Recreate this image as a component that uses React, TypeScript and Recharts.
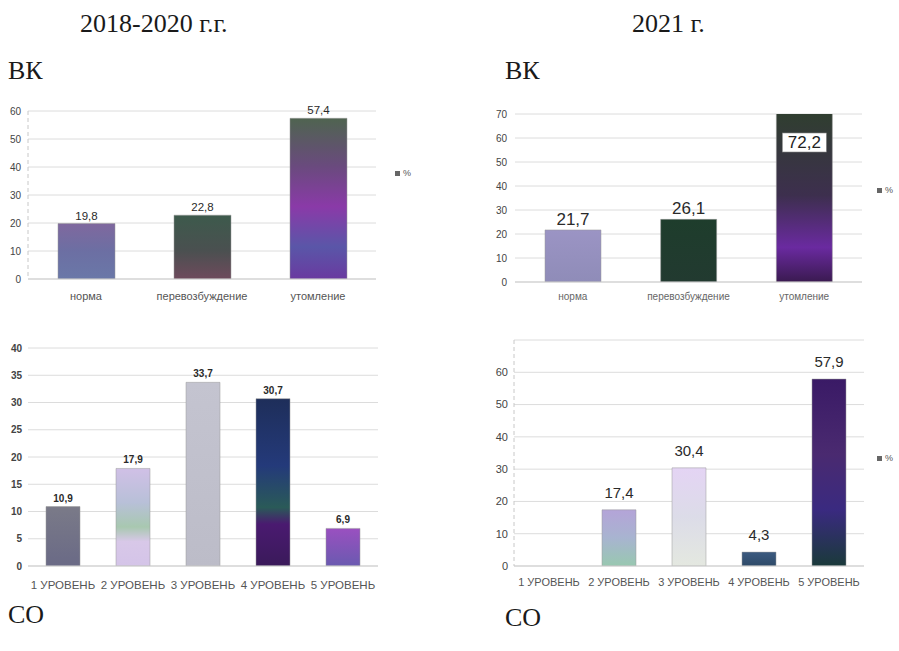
import React from 'react';
import { BarChart, Bar, XAxis, YAxis, CartesianGrid, Cell, LabelList } from 'recharts';

// ВК – categories and values
const vkLabels = ['норма', 'перевозбуждение', 'утомление'];
const vk2018 = [19.8, 22.8, 57.4];
const vk2021 = [21.7, 26.1, 72.2];
const vk2018Ticks = [0, 10, 20, 30, 40, 50, 60];
const vk2021Ticks = [0, 10, 20, 30, 40, 50, 60, 70];

// СО – levels
const coLabels = ['1 УРОВЕНЬ', '2 УРОВЕНЬ', '3 УРОВЕНЬ', '4 УРОВЕНЬ', '5 УРОВЕНЬ'];
const co2018 = [10.9, 17.9, 33.7, 30.7, 6.9];
const co2021 = [0, 17.4, 30.4, 4.3, 57.9];
const co2018Ticks = [0, 5, 10, 15, 20, 25, 30, 35, 40];
const co2021Ticks = [0, 10, 20, 30, 40, 50, 60];

type Stops = [string, string][];

// scanned-looking fills, one gradient per bar
const vk2018Fills: Stops[] = [
    [['0', '#7f689e'], ['0.5', '#6c6fa3'], ['1', '#6a78a8']],
    [['0', '#3d5a4c'], ['0.55', '#4a5050'], ['1', '#6e4a5c']],
    [['0', '#4f6450'], ['0.3', '#6a4a7e'], ['0.55', '#8a3aa8'], ['0.8', '#5a56a8'], ['1', '#6a3aa0']],
];
const vk2021Fills: Stops[] = [
    [['0', '#9b94c4'], ['1', '#8f8cb8']],
    [['0', '#1e3d2c'], ['1', '#223a30']],
    [['0', '#2f3f2e'], ['0.5', '#3d2f4e'], ['0.8', '#6a2aa0'], ['1', '#3a1a50']],
];
const co2018Fills: Stops[] = [
    [['0', '#7a7a88'], ['1', '#6a6a86']],
    [['0', '#d0c0e6'], ['0.35', '#b8c0d8'], ['0.6', '#a8c8b0'], ['0.75', '#d8c8e8'], ['1', '#d4c4e8']],
    [['0', '#c4c4d0'], ['1', '#bcbcc8']],
    [['0', '#1e2e5a'], ['0.4', '#243a7a'], ['0.65', '#2a5a58'], ['0.75', '#4a1a70'], ['1', '#3a1a5a']],
    [['0', '#9a50c0'], ['1', '#6a5ab0']],
];
const co2021Fills: Stops[] = [
    [['0', '#aaaaaa'], ['1', '#aaaaaa']],
    [['0', '#b4a4d8'], ['0.5', '#a8b4d0'], ['1', '#98c8b0']],
    [['0', '#e4d4f4'], ['0.5', '#dcdce8'], ['1', '#e4e8e0']],
    [['0', '#3c5a80'], ['1', '#2e4a68']],
    [['0', '#3a1a66'], ['0.4', '#4a2a70'], ['0.7', '#3a2a80'], ['1', '#1a3a3a']],
];

const fmt = (v: number) => (v ? String(v).replace('.', ',') : '');

interface PanelProps {
    id: string;
    left: number;
    top: number;
    width: number;
    height: number;
    margin: { top: number; right: number; left: number; bottom: number };
    yWidth: number;
    yGap: number;
    xGap: number;
    labels: string[];
    values: number[];
    ticks: number[];
    max: number;
    fills: Stops[];
    barSize: number;
    yFont: number;
    yBold?: boolean;
    xFont: number;
    xColor: string;
    valFont: number;
    valBold?: boolean;
    valOffset: number;
    showYLine?: boolean;
}

function Panel(p: PanelProps) {
    const data = p.labels.map((name, i) => ({ name, value: p.values[i] }));

    const renderValue = (props: any) => {
        const { x, y, width, height, value } = props;
        if (!value) return null;
        const cx = Number(x) + Number(width) / 2;
        if (value > p.max) {
            // bar runs past the axis top: value sits in a white box inside it
            const plotTop = Number(y) + (Number(height) * (value - p.max)) / value;
            return (
                <g>
                    <rect x={cx - 22} y={plotTop + 19} width={44} height={19} fill="#fff" stroke="#888" strokeWidth={0.6} />
                    <text x={cx} y={plotTop + 34} textAnchor="middle" fontSize={p.valFont} fill="#222" fontFamily="Liberation Sans">
                        {fmt(value)}
                    </text>
                </g>
            );
        }
        return (
            <text
                x={cx}
                y={Number(y) - p.valOffset}
                textAnchor="middle"
                fontSize={p.valFont}
                fontWeight={p.valBold ? 'bold' : 'normal'}
                fill="#2a2a2a"
                fontFamily="Liberation Sans"
            >
                {fmt(value)}
            </text>
        );
    };

    return (
        <div style={{ position: 'absolute', left: p.left, top: p.top }}>
            <BarChart width={p.width} height={p.height} data={data} margin={p.margin}>
                <defs>
                    {p.fills.map((stops, i) => (
                        <linearGradient key={i} id={`${p.id}-g${i}`} x1="0" y1="0" x2="0" y2="1">
                            {stops.map(([off, col]) => (
                                <stop key={off} offset={off} stopColor={col} />
                            ))}
                        </linearGradient>
                    ))}
                </defs>
                <CartesianGrid vertical={false} stroke="#dcdcdc" strokeWidth={1} />
                <XAxis
                    dataKey="name"
                    interval={0}
                    height={30}
                    tickSize={0}
                    tickMargin={p.xGap}
                    axisLine={{ stroke: '#cfcfcf' }}
                    tickLine={false}
                    tick={{ fontSize: p.xFont, fill: p.xColor, fontFamily: 'Liberation Sans' }}
                />
                <YAxis
                    width={p.yWidth}
                    domain={[0, p.max]}
                    ticks={p.ticks}
                    allowDataOverflow
                    tickSize={0}
                    tickMargin={p.yGap}
                    axisLine={p.showYLine ? { stroke: '#c8c8c8', strokeDasharray: '4 3' } : false}
                    tickLine={false}
                    tick={{ fontSize: p.yFont, fill: '#444', fontWeight: p.yBold ? 'bold' : 'normal', fontFamily: 'Liberation Sans' }}
                />
                <Bar dataKey="value" fill="#777" barSize={p.barSize} isAnimationActive={false}>
                    {data.map((d, i) => (
                        <Cell key={d.name} fill={`url(#${p.id}-g${i})`} stroke="#9a9a9a" strokeWidth={0.5} />
                    ))}
                    <LabelList dataKey="value" content={renderValue} />
                </Bar>
            </BarChart>
        </div>
    );
}

function Pct({ left, top }: { left: number; top: number }) {
    return (
        <div style={{ position: 'absolute', left, top, display: 'flex', alignItems: 'center', gap: 3, fontFamily: 'Liberation Sans', fontSize: 9, color: '#555' }}>
            <span style={{ width: 5, height: 5, background: '#666', display: 'inline-block' }} />
            %
        </div>
    );
}

const serif: React.CSSProperties = {
    position: 'absolute',
    fontFamily: '"Liberation Serif", "DejaVu Serif", serif',
    fontSize: 26,
    lineHeight: '26px',
    color: '#1a1a1a',
    whiteSpace: 'nowrap',
};

export default function App() {
    return (
        <div style={{ position: 'absolute', left: 0, top: 0, width: 899, height: 651, background: '#fff', overflow: 'hidden' }}>
            <div style={{ ...serif, left: 80, top: 11 }}>2018-2020 г.г.</div>
            <div style={{ ...serif, left: 632, top: 11 }}>2021 г.</div>
            <div style={{ ...serif, left: 8, top: 58 }}>ВК</div>
            <div style={{ ...serif, left: 505, top: 58 }}>ВК</div>
            <div style={{ ...serif, left: 8, top: 602 }}>СО</div>
            <div style={{ ...serif, left: 505, top: 605 }}>СО</div>

            <Panel
                id="vk18"
                left={0}
                top={90}
                width={420}
                height={225}
                margin={{ top: 21, right: 44, left: 0, bottom: 6 }}
                yWidth={28}
                yGap={7}
                xGap={13}
                labels={vkLabels}
                values={vk2018}
                ticks={vk2018Ticks}
                max={60}
                fills={vk2018Fills}
                barSize={57}
                yFont={10}
                xFont={11}
                xColor="#555"
                valFont={11.5}
                valOffset={4}
                showYLine
            />
            <Pct left={395} top={168} />

            <Panel
                id="vk21"
                left={440}
                top={90}
                width={440}
                height={230}
                margin={{ top: 24, right: 18, left: 40, bottom: 8 }}
                yWidth={35}
                yGap={8}
                xGap={11}
                labels={vkLabels}
                values={vk2021}
                ticks={vk2021Ticks}
                max={70}
                fills={vk2021Fills}
                barSize={56}
                yFont={10}
                xFont={10}
                xColor="#666"
                valFont={17}
                valOffset={5}
            />
            <Pct left={877} top={185} />

            <Panel
                id="co18"
                left={0}
                top={330}
                width={420}
                height={270}
                margin={{ top: 18, right: 42, left: 0, bottom: 4 }}
                yWidth={28}
                yGap={6}
                xGap={15}
                labels={coLabels}
                values={co2018}
                ticks={co2018Ticks}
                max={40}
                fills={co2018Fills}
                barSize={34}
                yFont={10}
                yBold
                xFont={11.5}
                xColor="#555"
                valFont={10}
                valBold
                valOffset={5}
            />

            <Panel
                id="co21"
                left={440}
                top={320}
                width={450}
                height={280}
                margin={{ top: 20, right: 26, left: 40, bottom: 4 }}
                yWidth={34}
                yGap={6}
                xGap={12}
                labels={coLabels}
                values={co2021}
                ticks={co2021Ticks}
                max={70}
                fills={co2021Fills}
                barSize={34}
                yFont={11}
                xFont={11}
                xColor="#555"
                valFont={15}
                valOffset={12}
                showYLine
            />
            <Pct left={877} top={453} />
        </div>
    );
}
